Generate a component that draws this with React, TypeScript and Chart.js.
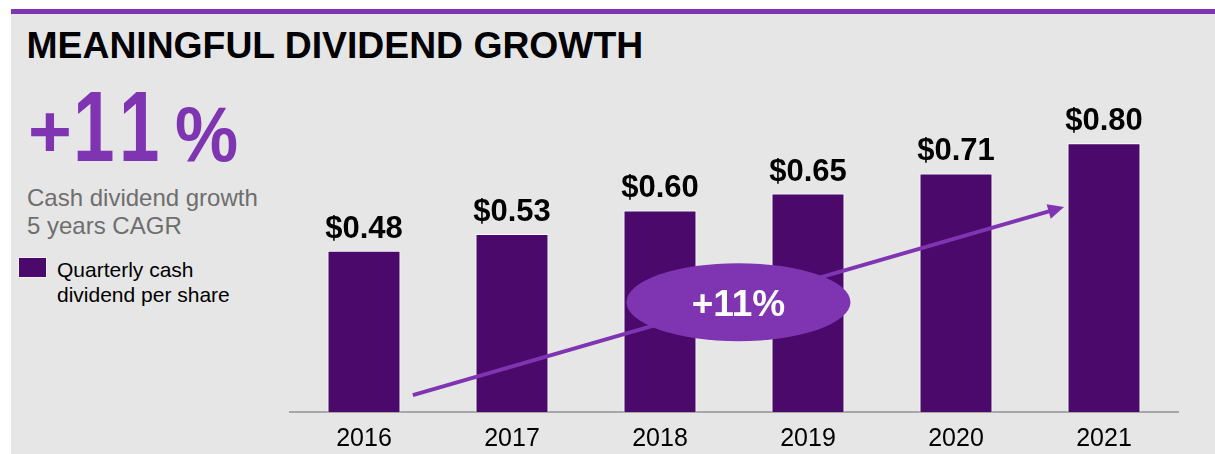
import React, { useEffect, useRef } from 'react';
import { Chart, registerables } from 'chart.js';

Chart.register(...registerables);

// ---- data ----
const years = ['2016', '2017', '2018', '2019', '2020', '2021'];
const dividends = [0.48, 0.53, 0.6, 0.65, 0.71, 0.8];
const cagrText = '+11%';
const titleText = 'MEANINGFUL DIVIDEND GROWTH';
const subtitleLines = ['Cash dividend growth', '5 years CAGR'];
const legendLines = ['Quarterly cash', 'dividend per share'];
// annotation anchors in data space: [category index, value]
const arrowFrom = [0.33, 0.05];
const arrowTo = [4.73, 0.61];
const badgeAt = [2.53, 0.327];

// ---- styles ----
const PURPLE = '#7f35b2';
const BAR = '#4b0a6b';
const BG = '#e6e6e6';
const GREY_TEXT = '#6e6e6e';
const FONT = '"Liberation Sans", Arial, Helvetica, sans-serif';

// headline glyphs of cagrText: [font size, baseline, ink left, ink right]
const bigGlyphLayout: [number, number, number, number][] = [
  [75, 157.2, 31, 69],
  [101, 161, 77.5, 113],
  [101, 161, 123.5, 158],
  [78, 161, 175.7, 236.7],
];

let measureCtx: CanvasRenderingContext2D | null = null;
function inkBox(text: string, size: number): { L: number; R: number } {
  if (!measureCtx) {
    const c = document.createElement('canvas');
    measureCtx = c.getContext('2d');
  }
  if (!measureCtx) return { L: 0, R: size * 0.6 * text.length };
  measureCtx.font = `bold ${size}px ${FONT}`;
  measureCtx.textAlign = 'left';
  const m = measureCtx.measureText(text);
  return { L: m.actualBoundingBoxLeft || 0, R: m.actualBoundingBoxRight || m.width };
}

const overlayPlugin = {
  id: 'overlay',
  afterDatasetsDraw(chart: any) {
    const ctx = chart.ctx as CanvasRenderingContext2D;
    const xs = chart.scales.x;
    const ys = chart.scales.y;
    const meta = chart.getDatasetMeta(0);
    ctx.save();
    // value labels
    ctx.fillStyle = '#000';
    ctx.font = `bold 31px ${FONT}`;
    ctx.textAlign = 'center';
    ctx.textBaseline = 'alphabetic';
    meta.data.forEach((bar: any, i: number) => {
      ctx.fillText(`$${dividends[i].toFixed(2)}`, bar.x, bar.y - 13);
    });
    // arrow
    const x0 = xs.getPixelForValue(arrowFrom[0]);
    const y0 = ys.getPixelForValue(arrowFrom[1]);
    const x1 = xs.getPixelForValue(arrowTo[0]);
    const y1 = ys.getPixelForValue(arrowTo[1]);
    const ang = Math.atan2(y1 - y0, x1 - x0);
    const c = Math.cos(ang);
    const s = Math.sin(ang);
    const headLen = 16;
    const headHalf = 7.5;
    const bx = x1 - headLen * c;
    const by = y1 - headLen * s;
    ctx.strokeStyle = PURPLE;
    ctx.fillStyle = PURPLE;
    ctx.lineWidth = 4;
    ctx.beginPath();
    ctx.moveTo(x0, y0);
    ctx.lineTo(bx + 2 * c, by + 2 * s);
    ctx.stroke();
    ctx.beginPath();
    ctx.moveTo(x1, y1);
    ctx.lineTo(bx - headHalf * s, by + headHalf * c);
    ctx.lineTo(bx + headHalf * s, by - headHalf * c);
    ctx.closePath();
    ctx.fill();
    // badge ellipse
    const cx = xs.getPixelForValue(badgeAt[0]);
    const cy = ys.getPixelForValue(badgeAt[1]);
    ctx.beginPath();
    ctx.ellipse(cx, cy, 112, 39, 0, 0, Math.PI * 2);
    ctx.fill();
    ctx.fillStyle = '#ffffff';
    ctx.font = `bold 37px ${FONT}`;
    ctx.fillText(cagrText, cx, cy + 14);
    ctx.restore();
  },
};

function Txt(props: {
  x: number;
  baseline: number;
  size: number;
  bold?: boolean;
  color: string;
  scaleX?: number;
  children: React.ReactNode;
}) {
  const { x, baseline, size, bold, color, scaleX, children } = props;
  const top = baseline - 0.8465 * size;
  return (
    <div
      style={{
        position: 'absolute',
        left: x,
        top,
        fontFamily: FONT,
        fontSize: size,
        lineHeight: `${size}px`,
        fontWeight: bold ? 700 : 400,
        color,
        whiteSpace: 'nowrap',
        transform: scaleX && scaleX !== 1 ? `scaleX(${scaleX})` : undefined,
        transformOrigin: '0 0',
      }}
    >
      {children}
    </div>
  );
}

export default function App() {
  const canvasRef = useRef<HTMLCanvasElement>(null);

  useEffect(() => {
    const chart = new Chart(canvasRef.current as HTMLCanvasElement, {
      type: 'bar',
      data: {
        labels: years,
        datasets: [
          {
            data: dividends,
            backgroundColor: BAR,
            borderColor: '#ffffff',
            borderWidth: 1,
            categoryPercentage: 1,
            barPercentage: 0.493,
          },
        ],
      },
      options: {
        animation: false,
        responsive: false,
        devicePixelRatio: 1,
        layout: { padding: { left: 290, right: 37, top: 76, bottom: 0 } },
        plugins: { legend: { display: false }, tooltip: { enabled: false } },
        scales: {
          x: {
            grid: { display: false, drawTicks: false },
            border: { display: true, color: '#a6a6a6', width: 2 },
            ticks: { color: '#000000', font: { family: FONT, size: 25 }, padding: 12 },
          },
          y: { display: false, min: 0, max: 1 },
        },
      },
      plugins: [overlayPlugin],
    } as any);
    return () => chart.destroy();
  }, []);

  const bigChars = cagrText.split('');

  return (
    <div
      style={{
        position: 'absolute',
        left: 0,
        top: 0,
        width: 1215,
        height: 454,
        overflow: 'hidden',
        background: '#ffffff',
      }}
    >
      <div style={{ position: 'absolute', left: 11, top: 14, width: 1204, height: 440, background: BG }} />
      <div style={{ position: 'absolute', left: 11, top: 9, width: 1204, height: 5, background: PURPLE }} />
      <Txt x={26.5} baseline={58.3} size={37.3} bold color="#000000">
        {titleText}
      </Txt>
      {bigChars.map((t, i) => {
        const [size, base, inkL, inkR] = bigGlyphLayout[i];
        const { L, R } = inkBox(t, size);
        const w = R + L;
        const k = w > 0 ? (inkR - inkL) / w : 1;
        return (
          <Txt key={i} x={inkL + L * k} baseline={base} size={size} bold color={PURPLE} scaleX={k}>
            {t}
          </Txt>
        );
      })}
      <Txt x={27} baseline={206.7} size={24} color={GREY_TEXT}>
        {subtitleLines[0]}
      </Txt>
      <Txt x={27} baseline={234} size={24} color={GREY_TEXT}>
        {subtitleLines[1]}
      </Txt>
      <div
        style={{
          position: 'absolute',
          left: 18,
          top: 257,
          width: 29,
          height: 21,
          boxSizing: 'border-box',
          background: BAR,
          border: '1px solid #f4f0f6',
        }}
      />
      <Txt x={57} baseline={276.7} size={21} color="#000000">
        {legendLines[0]}
      </Txt>
      <Txt x={57} baseline={301.7} size={21} color="#000000">
        {legendLines[1]}
      </Txt>
      <canvas
        ref={canvasRef}
        width={1215}
        height={466}
        style={{ position: 'absolute', left: 0, top: 0, width: 1215, height: 466 }}
      />
    </div>
  );
}
